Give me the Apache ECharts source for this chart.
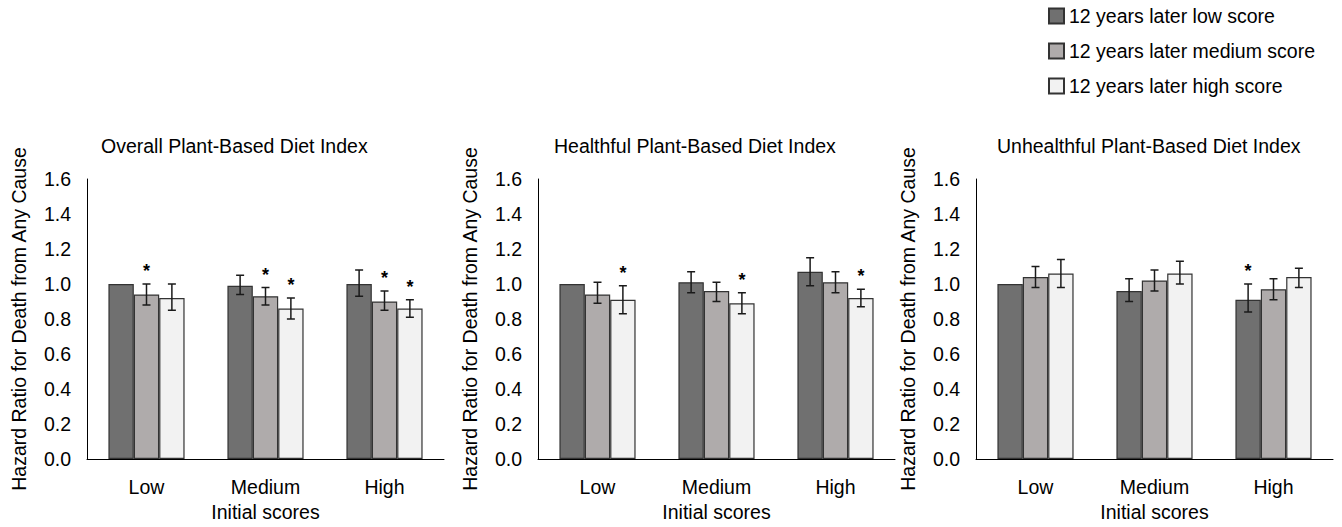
<!DOCTYPE html>
<html>
<head>
<meta charset="utf-8">
<script src="https://cdn.jsdelivr.net/npm/echarts@6/dist/echarts.min.js"></script>
<style>html,body{margin:0;padding:0;background:#fff;}#c{width:1342px;height:527px;}</style>
</head>
<body>
<div id="c"></div>
<script>
const categories = ['Low', 'Medium', 'High'];
const seriesNames = ['12 years later low score', '12 years later medium score', '12 years later high score'];
const panelTitles = ['Overall Plant-Based Diet Index', 'Healthful Plant-Based Diet Index', 'Unhealthful Plant-Based Diet Index'];
const yTicks = [0, 0.2, 0.4, 0.6, 0.8, 1.0, 1.2, 1.4, 1.6];

// Panel 1: Overall PDI
const p1Low = [1.00, 0.99, 1.00];
const p1LowLo = [null, 0.94, 0.93];
const p1LowHi = [null, 1.05, 1.08];
const p1LowStar = [0, 0, 0];
const p1Med = [0.94, 0.93, 0.90];
const p1MedLo = [0.88, 0.88, 0.85];
const p1MedHi = [1.00, 0.98, 0.96];
const p1MedStar = [1, 1, 1];
const p1High = [0.92, 0.86, 0.86];
const p1HighLo = [0.85, 0.80, 0.81];
const p1HighHi = [1.00, 0.92, 0.91];
const p1HighStar = [0, 1, 1];

// Panel 2: Healthful PDI
const p2Low = [1.00, 1.01, 1.07];
const p2LowLo = [null, 0.95, 0.99];
const p2LowHi = [null, 1.07, 1.15];
const p2LowStar = [0, 0, 0];
const p2Med = [0.94, 0.96, 1.01];
const p2MedLo = [0.89, 0.90, 0.95];
const p2MedHi = [1.01, 1.01, 1.07];
const p2MedStar = [0, 0, 0];
const p2High = [0.91, 0.89, 0.92];
const p2HighLo = [0.83, 0.83, 0.87];
const p2HighHi = [0.99, 0.95, 0.97];
const p2HighStar = [1, 1, 1];

// Panel 3: Unhealthful PDI
const p3Low = [1.00, 0.96, 0.91];
const p3LowLo = [null, 0.90, 0.84];
const p3LowHi = [null, 1.03, 1.00];
const p3LowStar = [0, 0, 1];
const p3Med = [1.04, 1.02, 0.97];
const p3MedLo = [0.98, 0.96, 0.91];
const p3MedHi = [1.10, 1.08, 1.03];
const p3MedStar = [0, 0, 0];
const p3High = [1.06, 1.06, 1.04];
const p3HighLo = [0.98, 1.00, 0.98];
const p3HighHi = [1.14, 1.13, 1.09];
const p3HighStar = [0, 0, 0];

const panels = [
  [[p1Low, p1LowLo, p1LowHi, p1LowStar], [p1Med, p1MedLo, p1MedHi, p1MedStar], [p1High, p1HighLo, p1HighHi, p1HighStar]],
  [[p2Low, p2LowLo, p2LowHi, p2LowStar], [p2Med, p2MedLo, p2MedHi, p2MedStar], [p2High, p2HighLo, p2HighHi, p2HighStar]],
  [[p3Low, p3LowLo, p3LowHi, p3LowStar], [p3Med, p3MedLo, p3MedHi, p3MedStar], [p3High, p3HighLo, p3HighHi, p3HighStar]]
];

const colors = ['#707070', '#afabab', '#f2f2f2'];
const FONT = '"Liberation Sans", Arial, sans-serif';
const FS = 19.5;
const grids = [
  {left: 87, top: 179, width: 357, height: 284},
  {left: 538, top: 179, width: 357, height: 288},
  {left: 976, top: 179, width: 357, height: 282}
];
const titleLeft = [96, 549, 992];
const CAT_GAP = 0.36;

const chart = echarts.init(document.getElementById('c'), null, {renderer: 'svg'});

const xAxes = [], yAxes = [], series = [], titles = [];
grids.forEach((g, p) => {
  titles.push({text: panelTitles[p], left: titleLeft[p], top: 131,
    textStyle: {fontFamily: FONT, fontSize: FS, fontWeight: 'normal', color: '#000'}});
  xAxes.push({type: 'category', gridIndex: p, data: categories,
    axisLine: {lineStyle: {color: '#000', width: 1}}, axisTick: {show: false},
    axisLabel: {fontFamily: FONT, fontSize: FS, color: '#000', margin: 18},
    name: 'Initial scores', nameLocation: 'middle', nameGap: 43,
    nameTextStyle: {fontFamily: FONT, fontSize: FS, color: '#000'}});
  yAxes.push({type: 'value', gridIndex: p, min: 0, max: 1.6, interval: 0.2,
    axisLine: {show: true, lineStyle: {color: '#000', width: 1}}, axisTick: {show: false},
    splitLine: {show: false},
    axisLabel: {fontFamily: FONT, fontSize: FS, color: '#000', margin: 16, formatter: v => v.toFixed(1)},
    name: 'Hazard Ratio for Death from Any Cause', nameLocation: 'middle', nameGap: 58,
    nameTextStyle: {fontFamily: FONT, fontSize: FS, color: '#000'}});
  panels[p].forEach((arrs, k) => {
    const [vals, lo, hi, star] = arrs;
    series.push({type: 'bar', name: seriesNames[k], xAxisIndex: p, yAxisIndex: p,
      data: vals, barGap: '0%', barCategoryGap: (CAT_GAP * 100) + '%',
      itemStyle: {color: colors[k], borderColor: '#333', borderWidth: 1.2},
      emphasis: {disabled: true}});
    series.push({type: 'custom', xAxisIndex: p, yAxisIndex: p, z: 5, silent: true,
      data: categories.map((c, i) => [i, lo[i], hi[i], star[i], vals[i]]),
      encode: {x: 0, y: [1, 2]},
      renderItem: (params, api) => {
        const i = api.value(0);
        const bandW = api.size([1, 0])[0];
        const bw = bandW * (1 - CAT_GAP) / 3;
        const children = [];
        const l = api.value(1), h = api.value(2);
        let topY;
        const cx = api.coord([i, 0])[0] + (k - 1) * bw;
        if (l != null && !isNaN(l) && h != null && !isNaN(h)) {
          const yh = api.coord([i, h])[1], yl = api.coord([i, l])[1];
          const st = {stroke: '#1a1a1a', lineWidth: 1.5};
          children.push({type: 'line', shape: {x1: cx, y1: yh, x2: cx, y2: yl}, style: st});
          children.push({type: 'line', shape: {x1: cx - 4, y1: yh, x2: cx + 4, y2: yh}, style: st});
          children.push({type: 'line', shape: {x1: cx - 4, y1: yl, x2: cx + 4, y2: yl}, style: st});
          topY = yh;
        } else {
          topY = api.coord([i, api.value(4)])[1];
        }
        if (api.value(3) === 1) {
          children.push({type: 'text', style: {text: '*', x: cx, y: topY - 4, align: 'center', verticalAlign: 'bottom',
            fontSize: 18, fontWeight: 'bold', fontFamily: FONT, fill: '#000'}});
        }
        return {type: 'group', children};
      }});
  });
});

chart.setOption({
  animation: false,
  backgroundColor: '#fff',
  title: titles,
  legend: {orient: 'vertical', left: 1043, top: 1, itemWidth: 15, itemHeight: 15, itemGap: 15,
    icon: 'rect', data: seriesNames, selectedMode: false,
    textStyle: {fontFamily: FONT, fontSize: FS, color: '#000'}},
  grid: grids,
  xAxis: xAxes,
  yAxis: yAxes,
  series: series
});
</script>
</body>
</html>
